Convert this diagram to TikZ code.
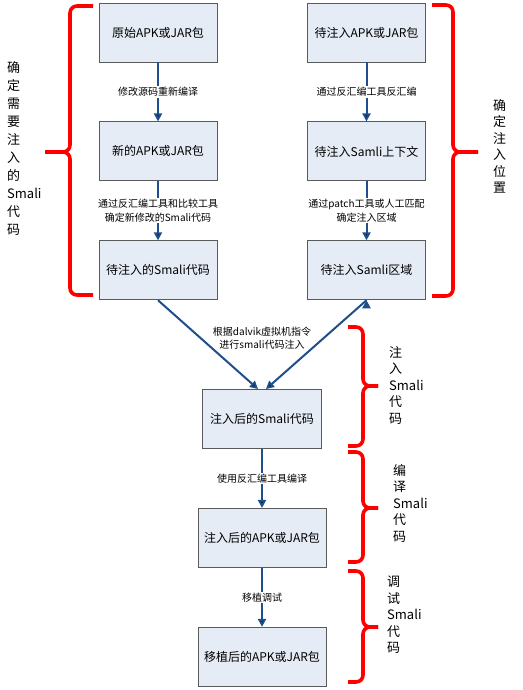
\documentclass[tikz,border=0pt]{standalone}
\usepackage{fontspec}
\setmainfont{Noto Sans CJK SC}
\usepackage{tikz}
\usetikzlibrary{positioning}
\usetikzlibrary{arrows.meta}
\definecolor{boxfill}{HTML}{E6ECF6}
\definecolor{boxline}{HTML}{5A5A5A}
\definecolor{flowblue}{HTML}{1F4E8C}
\definecolor{bracered}{HTML}{FF0000}

\begin{document}
\begin{tikzpicture}[x=1pt, y=1pt, node distance=59pt]
                \tikzset{box/.style={draw=boxline, fill=boxfill, line width=0.9pt, minimum width=118pt, minimum height=59pt, font=\fontsize{12}{14}\selectfont}}
                \tikzset{lbl/.style={fill=white, inner sep=1pt, align=center, font=\fontsize{10}{13.5}\selectfont}}
                \tikzset{side/.style={anchor=north west, inner sep=0pt, align=left}}
                \tikzset{curly/.style={draw=bracered, line width=3.6pt, rounded corners=7pt}}
                \useasboundingbox (0,0) rectangle (522,-690);
                % left column
                \node[box] (orig) at (158, -32.5) {原始APK或JAR包};
                \node[box, below = of orig] (newpkg) {新的APK或JAR包};
                \node[box, below = of newpkg] (src) {待注入的Smali代码};
                % right column
                \node[box] (tgt) at (366.5, -32.5) {待注入APK或JAR包};
                \node[box, below = of tgt] (ctx) {待注入Samli上下文};
                \node[box, below = of ctx] (area) {待注入Samli区域};
                % merged column
                \node[box, minimum width=119pt] (inj) at (262, -419) {注入后的Smali代码};
                \node[box, minimum width=128pt, below = of inj] (pkg) {注入后的APK或JAR包};
                \node[box, minimum width=128pt, below = of pkg] (port) {移植后的APK或JAR包};
                \path[-{Triangle[length=8pt, width=8pt]}, draw=flowblue, line width=2pt]
                    (orig) edge node [lbl] {修改源码重新编译} (newpkg)
                    (newpkg) edge node [lbl] {通过反汇编工具和比较工具\\确定新修改的Smali代码} (src)
                    (tgt) edge node [lbl] {通过反汇编工具反汇编} (ctx)
                    (ctx) edge node [lbl] {通过patch工具或人工匹配\\确定注入区域} (area)
                    (src.south) edge ([xshift=-4pt]inj.north)
                    (area.south) edge ([xshift=4pt]inj.north)
                    (inj) edge node [lbl] {使用反汇编工具编译} (pkg)
                    (pkg) edge node [lbl] {移植调试} (port);
                \node[lbl, fill=none] (dalvik) at (262, -338) {根据dalvik虚拟机指令\\进行smali代码注入};
                % braces
                \draw[curly] (93, -6) -- (70, -6) -- (70, -152) -- (45, -152);
                \draw[curly] (93, -295) -- (70, -295) -- (70, -152) -- (45, -152);
                \draw[curly] (432, -5) -- (453, -5) -- (453, -152) -- (478, -152);
                \draw[curly] (432, -296) -- (453, -296) -- (453, -152) -- (478, -152);
                \foreach \top/\mid/\bot in {327/386/446, 452/508/562, 571/627/682} {
                    \draw[curly] (348, -\top) -- (363, -\top) -- (363, -\mid) -- (378, -\mid);
                    \draw[curly] (348, -\bot) -- (363, -\bot) -- (363, -\mid) -- (378, -\mid);
                }
                % side texts
                \node[side, font=\fontsize{13}{18}\selectfont] (need) at (7, -61) {确\\定\\需\\要\\注\\入\\的\\Smali\\代\\码};
                \node[side, font=\fontsize{13}{16.5}\selectfont] (where) at (493, -99) {确\\定\\注\\入\\位\\置};
                \node[side, font=\fontsize{13}{16.5}\selectfont] (doinj) at (389, -346) {注\\入\\Smali\\代\\码};
                \node[side, font=\fontsize{13}{16.5}\selectfont] (build) at (393, -464) {编\\译\\Smali\\代\\码};
                \node[side, font=\fontsize{13}{16.5}\selectfont] (debug) at (387, -576) {调\\试\\Smali\\代\\码};
\end{tikzpicture}
\end{document}
